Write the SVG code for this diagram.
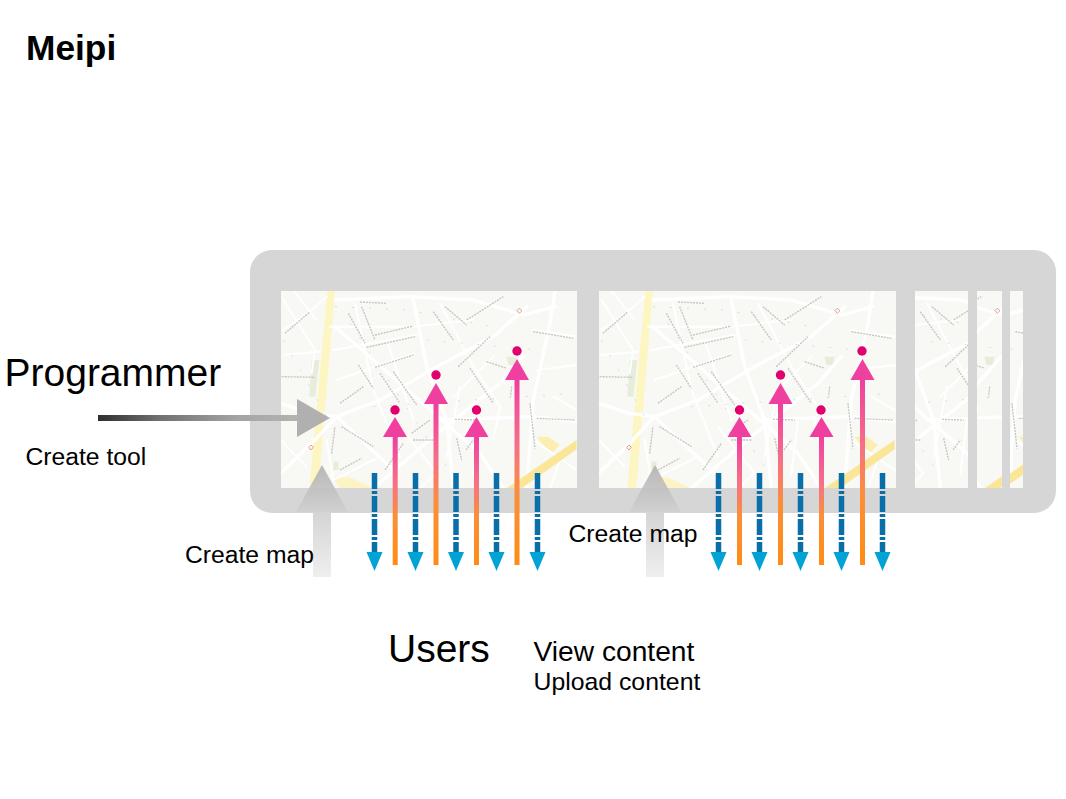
<svg xmlns="http://www.w3.org/2000/svg" width="1066" height="799" viewBox="0 0 1066 799">
<style>
text{font-family:"Liberation Sans",Arial,sans-serif;fill:#000}
.r1{fill:none;stroke:#fff;stroke-width:10;stroke-linecap:round;stroke-linejoin:round}
.r2{fill:none;stroke:#fff;stroke-width:6;stroke-linecap:round;stroke-linejoin:round}
.lb{fill:none;stroke:#c4c4c0;stroke-width:4;stroke-dasharray:6 3}
.dsh{fill:none;stroke:#d2dcee;stroke-width:3;stroke-dasharray:6 45}
.blue{stroke:#0a6fa8;stroke-width:5.500;stroke-dasharray:16 2 3 2;fill:none}
.bh{fill:#00a3d4}
.ph{fill:#f0409f}
.dot{fill:#e0006e}
.os{fill:url(#po)}
</style>
<defs>
<linearGradient id="po" x1="0" y1="0" x2="0" y2="1"><stop offset="0" stop-color="#f03ea0"/><stop offset=".35" stop-color="#f56f8a"/><stop offset=".62" stop-color="#fb8f3a"/><stop offset="1" stop-color="#ff8c12"/></linearGradient>
<linearGradient id="hg" x1="98" y1="0" x2="300" y2="0" gradientUnits="userSpaceOnUse"><stop offset="0" stop-color="#2e2e2e"/><stop offset=".3" stop-color="#707070"/><stop offset=".7" stop-color="#a5a5a5"/><stop offset="1" stop-color="#b4b4b4"/></linearGradient>
<linearGradient id="ug" x1="0" y1="0" x2="0" y2="1"><stop offset="0" stop-color="#d4d4d4"/><stop offset="1" stop-color="#efefef"/></linearGradient>
<linearGradient id="uh" x1="0" y1="0" x2="0" y2="1"><stop offset="0" stop-color="#b0b0b0"/><stop offset="1" stop-color="#d0d0d0"/></linearGradient>
<filter id="soft" x="-2%" y="-2%" width="104%" height="104%"><feGaussianBlur stdDeviation="0.6"/></filter>
<filter id="soft2" x="-40%" y="-5%" width="180%" height="110%"><feGaussianBlur stdDeviation="0.35"/></filter>
<clipPath id="c1"><rect x="281" y="291" width="296" height="197"/></clipPath>
<clipPath id="c2"><rect x="599" y="291" width="297" height="197"/></clipPath>
<clipPath id="c3"><rect x="915" y="291" width="53" height="197"/></clipPath>
<clipPath id="c4"><rect x="977" y="291" width="25" height="197"/></clipPath>
<clipPath id="c5"><rect x="1010" y="291" width="13" height="197"/></clipPath>
<g id="map" filter="url(#soft)">
<rect x="200" y="291" width="420" height="197" fill="#f8f8f5"/>
<g transform="translate(240 240) scale(.3333)">
<path d="M215 360L238 360L226 470L208 470Z" fill="#e6eedb"/>
<path d="M800 350L830 350L825 375L805 375Z" fill="#e6eedb"/>
<path d="M280 665L296 665L296 690L280 690Z" fill="#e6eedb"/>
<path d="M262 152L285 152L235 745L208 745Z" fill="#fdf6c2"/>
<path d="M280 712L330 712L400 745L300 745Z" fill="#fdf4c6"/>
<path d="M890 590L925 590L960 615L935 640L905 610Z" fill="#fbeeb0"/>
<path class="r1" d="M122 700L215 610L290 530L420 480L590 380L760 290L860 200"/>
<path class="r1" d="M945 152L930 250L880 480L860 745"/>
<path class="r1" d="M285 180L510 170L700 180L850 225L945 200"/>
<path class="r1" d="M285 260L400 360L560 500L720 640L790 745"/>
<path class="r1" d="M290 530L470 700"/>
<path class="r1" d="M122 490L215 520L290 530"/>
<path class="r1" d="M520 180L560 380L620 540L640 745"/>
<path class="r1" d="M600 540L880 530L1010 545"/>
<path class="r1" d="M400 745L580 590L780 430L850 350"/>
<path class="r2" d="M130 180L225 330L215 400"/>
<path class="r2" d="M130 270L215 210L260 170"/>
<path class="r2" d="M130 345L240 335"/>
<path class="r2" d="M160 152L230 240"/>
<path class="r2" d="M122 600L200 680"/>
<path class="r2" d="M270 260L520 260L700 240"/>
<path class="r2" d="M280 330L530 285"/>
<path class="r2" d="M345 190L400 450L480 650"/>
<path class="r2" d="M290 420L520 340"/>
<path class="r2" d="M440 300L520 540"/>
<path class="r2" d="M600 190L700 380L780 500L760 600"/>
<path class="r2" d="M640 470L760 350"/>
<path class="r2" d="M660 440L620 650"/>
<path class="r2" d="M880 270L1010 290"/>
<path class="r2" d="M890 390L1010 375"/>
<path class="r2" d="M940 470L1010 510"/>
<path class="r2" d="M720 545L700 700"/>
<path class="r2" d="M260 600L280 720L420 650"/>
<path class="r2" d="M480 560L590 700L540 745"/>
<path class="r2" d="M880 600L1010 690"/>
<path class="r2" d="M960 660L930 745"/>
<path d="M800 745L1010 600L1010 628L845 745Z" fill="#fbe596"/>
<path class="lb" d="M360 186L440 190M405 285L520 258M380 322L525 290M405 382L520 345M135 280L210 215M325 220L375 310M365 200L405 300M355 375L400 445M420 400L480 490M460 395L530 495M655 380L750 290M580 215L640 300M615 200L680 255M680 240L790 170M880 275L1000 295M645 538L710 540M890 535L1005 540M300 490L370 440M305 560L400 620M435 690L490 610M515 580L570 540M520 600L580 600M650 595L665 660M678 630L700 600M275 640L285 560M870 490L885 625M300 690L365 655M815 440L812 470M740 365L800 385M690 385L760 490M125 410L225 412"/>
<path class="dsh" d="M285 200L500 210L760 260M130 300L300 600M400 500L700 480L1000 460M560 300L900 330M330 250L620 680"/>
<path d="M838 205L846 212L838 220L831 212Z" fill="none" stroke="#e89a8a" stroke-width="3"/>
<path d="M213 615L220 622L213 630L206 622Z" fill="none" stroke="#e89a8a" stroke-width="3"/>
</g>
</g>
<g id="downArrow"><line class="blue" x1="0" y1="473" x2="0" y2="553"/><path class="bh" d="M-8 552H8L0 571Z"/></g>
</defs>
<rect width="1066" height="799" fill="#fff"/>
<g id="frame">
<rect x="250" y="250" width="806" height="263" rx="22" fill="#d6d6d6"/>
<g clip-path="url(#c1)"><use href="#map"/></g>
<g clip-path="url(#c2)"><use href="#map" transform="translate(318 0)"/></g>
<g clip-path="url(#c3)"><use href="#map" transform="translate(487 0)"/></g>
<g clip-path="url(#c4)"><use href="#map" transform="translate(478 0)"/></g>
<g clip-path="url(#c5)"><use href="#map" transform="translate(482 0)"/></g>
</g>
<g id="connectors">
<g id="programmer-arrow"><rect x="98" y="415" width="200" height="6" fill="url(#hg)"/><path d="M297 399L330 418L297 437Z" fill="#b0b0b0"/></g>
<g id="map-arrow-1"><rect x="313" y="512" width="18" height="65" fill="url(#ug)"/><path d="M322 465L348 512H296Z" fill="url(#uh)" fill-opacity=".9"/></g>
<g id="map-arrow-2"><rect x="646" y="512" width="18" height="65" fill="url(#ug)"/><path d="M655 465L681 512H629Z" fill="url(#uh)" fill-opacity=".9"/></g>
<g id="view-arrows-1">
<use href="#downArrow" x="374.500"/><use href="#downArrow" x="415.500"/><use href="#downArrow" x="456"/><use href="#downArrow" x="496.500"/><use href="#downArrow" x="537.500"/>
</g>
<g id="view-arrows-2">
<use href="#downArrow" x="718.500"/><use href="#downArrow" x="759.500"/><use href="#downArrow" x="800.500"/><use href="#downArrow" x="841.500"/><use href="#downArrow" x="882.500"/>
</g>
<g id="upload-arrows-1" filter="url(#soft2)">
<rect class="os" x="392.700" y="436" width="5" height="129"/><path class="ph" d="M395 417L407 437H383Z"/><circle class="dot" cx="395" cy="410" r="4.700"/>
<rect class="os" x="433.500" y="403" width="5" height="162"/><path class="ph" d="M436 383L448 404H424Z"/><circle class="dot" cx="436" cy="375" r="4.700"/>
<rect class="os" x="474" y="436" width="5" height="129"/><path class="ph" d="M476.500 417L488.500 437H464.500Z"/><circle class="dot" cx="476.500" cy="410" r="4.700"/>
<rect class="os" x="514.500" y="379" width="5" height="186"/><path class="ph" d="M517 359L529 380H505Z"/><circle class="dot" cx="517" cy="351" r="4.700"/>
</g>
<g id="upload-arrows-2" filter="url(#soft2)">
<rect class="os" x="737" y="436" width="5" height="129"/><path class="ph" d="M739.500 417L751.500 437H727.500Z"/><circle class="dot" cx="739.500" cy="410" r="4.700"/>
<rect class="os" x="778" y="403" width="5" height="162"/><path class="ph" d="M780.500 383L792.500 404H768.500Z"/><circle class="dot" cx="780.500" cy="375" r="4.700"/>
<rect class="os" x="819" y="436" width="5" height="129"/><path class="ph" d="M821.500 417L833.500 437H809.500Z"/><circle class="dot" cx="821" cy="410" r="4.700"/>
<rect class="os" x="860" y="379" width="5" height="186"/><path class="ph" d="M862.500 359L874.500 380H850.500Z"/><circle class="dot" cx="862" cy="351" r="4.700"/>
</g>
</g>
<g id="title"><text x="26" y="60" font-size="35.300" font-weight="700">Meipi</text></g>
<g id="programmer"><text x="4.500" y="386" font-size="39">Programmer</text></g>
<g id="create-tool"><text x="25.500" y="465" font-size="24.700">Create tool</text></g>
<g id="create-map-1"><text x="185" y="563" font-size="24.700">Create map</text></g>
<g id="create-map-2"><text x="568.500" y="542" font-size="24.700">Create map</text></g>
<g id="users"><text x="388" y="662" font-size="39">Users</text></g>
<g id="view-content"><text x="533.500" y="661" font-size="28.200">View content</text></g>
<g id="upload-content"><text x="533.500" y="690" font-size="24.800">Upload content</text></g>
</svg>
